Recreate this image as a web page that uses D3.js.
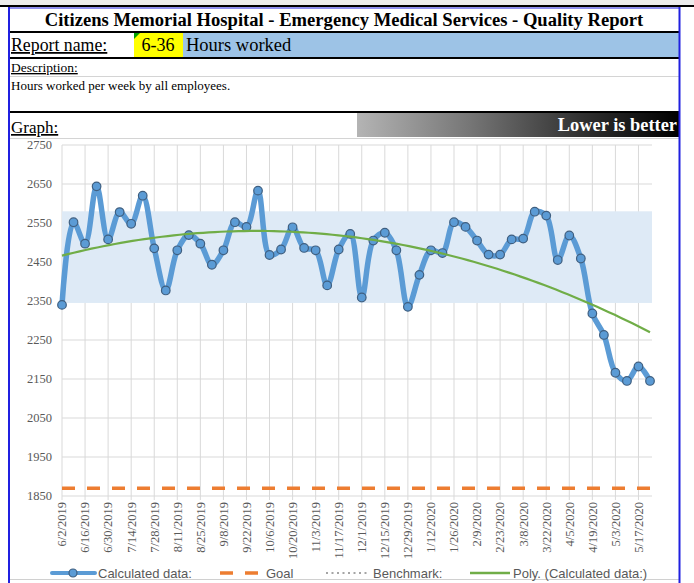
<!DOCTYPE html>
<html>
<head>
<meta charset="utf-8">
<script src="https://cdn.jsdelivr.net/npm/d3@7"></script>
<style>
  body { margin: 0; background: #fff; }
  svg text { font-family: 'Liberation Serif', 'Times New Roman', serif; }
  .legend text { font-family: 'Liberation Sans', Arial, sans-serif; }
</style>
</head>
<body>
<div id="app"></div>
<script>
const weekLabels = [
  '6/2/2019', '6/9/2019', '6/16/2019', '6/23/2019', '6/30/2019', '7/7/2019', '7/14/2019', '7/21/2019',
  '7/28/2019', '8/4/2019', '8/11/2019', '8/18/2019', '8/25/2019', '9/1/2019', '9/8/2019', '9/15/2019',
  '9/22/2019', '9/29/2019', '10/6/2019', '10/13/2019', '10/20/2019', '10/27/2019', '11/3/2019', '11/10/2019',
  '11/17/2019', '11/24/2019', '12/1/2019', '12/8/2019', '12/15/2019', '12/22/2019', '12/29/2019', '1/5/2020',
  '1/12/2020', '1/19/2020', '1/26/2020', '2/2/2020', '2/9/2020', '2/16/2020', '2/23/2020', '3/1/2020',
  '3/8/2020', '3/15/2020', '3/22/2020', '3/29/2020', '4/5/2020', '4/12/2020', '4/19/2020', '4/26/2020',
  '5/3/2020', '5/10/2020', '5/17/2020', '5/24/2020'
]

const hoursWorked = [
  2340, 2552, 2497, 2644, 2508, 2578, 2548, 2620, 2485, 2377,
  2480, 2519, 2497, 2443, 2480, 2552, 2540, 2633, 2468, 2482,
  2539, 2486, 2480, 2390, 2482, 2522, 2359, 2505, 2525, 2480,
  2335, 2417, 2480, 2473, 2552, 2540, 2505, 2469, 2469, 2508,
  2510, 2579, 2569, 2455, 2518, 2459, 2318, 2263, 2166, 2145,
  2182, 2145
]

const goalValue = 1870
const bandRange = [2345, 2580]
const yTicks = [1850, 1950, 2050, 2150, 2250, 2350, 2450, 2550, 2650, 2750]
const trendOrder = 2

const legendItems = ['Calculated data:', 'Goal', 'Benchmark:', 'Poly. (Calculated data:)']

;(function (d3) {

  'use strict'

  const w = 694
  const h = 583

  // least squares polynomial, like the excel trendline
  const polyfit = function (xs, ys, order) {
    const n = order + 1
    const m = []
    for (let r = 0; r < n; r++) {
      m.push(new Array(n + 1).fill(0))
    }
    xs.forEach(function (x, k) {
      for (let r = 0; r < n; r++) {
        for (let c = 0; c < n; c++) m[r][c] += Math.pow(x, r + c)
        m[r][n] += ys[k] * Math.pow(x, r)
      }
    })
    for (let i = 0; i < n; i++) {
      let p = i
      for (let r = i + 1; r < n; r++) if (Math.abs(m[r][i]) > Math.abs(m[p][i])) p = r
      const tmp = m[i]; m[i] = m[p]; m[p] = tmp
      for (let r = 0; r < n; r++) {
        if (r === i) continue
        const f = m[r][i] / m[i][i]
        for (let c = i; c <= n; c++) m[r][c] -= f * m[i][c]
      }
    }
    const coef = m.map((row, i) => row[n] / row[i])
    return x => coef.reduce((s, a, i) => s + a * Math.pow(x, i), 0)
  }

  const svg = d3.select('#app')
    .append('svg')
    .attr('width', w)
    .attr('height', h)

  const defs = svg.append('defs')
  const grad = defs.append('linearGradient').attr('id', 'lowerGrad')
  grad.append('stop').attr('offset', '0%').attr('stop-color', '#b4b4b4')
  grad.append('stop').attr('offset', '35%').attr('stop-color', '#767676')
  grad.append('stop').attr('offset', '70%').attr('stop-color', '#303030')
  grad.append('stop').attr('offset', '100%').attr('stop-color', '#000')

  // spreadsheet strip on top
  svg.append('rect').attr('x', 0).attr('y', 0).attr('width', w).attr('height', 5).attr('fill', '#ececec')
  svg.append('rect').attr('x', 0).attr('y', 5).attr('width', w).attr('height', 2).attr('fill', '#000')

  // header rows
  svg.append('text')
    .attr('x', 344).attr('y', 26)
    .attr('text-anchor', 'middle')
    .style('font-size', '18.6px').style('font-weight', 'bold')
    .text('Citizens Memorial Hospital - Emergency Medical Services - Quality Report')

  svg.append('rect').attr('x', 9).attr('y', 31).attr('width', 671).attr('height', 2).attr('fill', '#000')
  svg.append('rect').attr('x', 183).attr('y', 33).attr('width', 496).attr('height', 24).attr('fill', '#9dc3e6')
  svg.append('rect').attr('x', 134).attr('y', 33).attr('width', 49).attr('height', 24).attr('fill', '#ffff00')
  svg.append('path').attr('d', 'M134,33 L140,33 L134,39 Z').attr('fill', '#00a000')

  svg.append('text').attr('x', 11).attr('y', 51).style('font-size', '17.8px')
    .style('text-decoration', 'underline').text('Report name:')
  svg.append('text').attr('x', 158).attr('y', 51).attr('text-anchor', 'middle')
    .style('font-size', '18px').text('6-36')
  svg.append('text').attr('x', 186).attr('y', 51).style('font-size', '18.5px').text('Hours worked')

  svg.append('rect').attr('x', 9).attr('y', 57).attr('width', 671).attr('height', 2).attr('fill', '#000')
  svg.append('text').attr('x', 11).attr('y', 72).style('font-size', '13.5px')
    .style('text-decoration', 'underline').text('Description:')
  svg.append('line').attr('x1', 9).attr('x2', 679).attr('y1', 76.5).attr('y2', 76.5).attr('stroke', '#d4d4d4')
  svg.append('text').attr('x', 11).attr('y', 90).style('font-size', '13px')
    .text('Hours worked per week by all employees.')

  svg.append('rect').attr('x', 9).attr('y', 111).attr('width', 671).attr('height', 2).attr('fill', '#000')
  svg.append('text').attr('x', 11).attr('y', 133).style('font-size', '17px')
    .style('text-decoration', 'underline').text('Graph:')
  svg.append('rect').attr('x', 357).attr('y', 113).attr('width', 322).attr('height', 24).attr('fill', 'url(#lowerGrad)')
  svg.append('text').attr('x', 677).attr('y', 131).attr('text-anchor', 'end')
    .style('font-size', '18.4px').style('font-weight', 'bold').attr('fill', '#fff')
    .text('Lower is better')
  svg.append('line').attr('x1', 9).attr('x2', 679).attr('y1', 138.5).attr('y2', 138.5).attr('stroke', '#d4d4d4')

  // chart
  const x = d3.scalePoint().domain(weekLabels).range([62, 650])
  const y = d3.scaleLinear().domain([1850, 2750]).range([496, 145])
  const plotRight = 652

  const shownLabels = weekLabels.filter((d, i) => i % 2 === 0)
  const chart = svg.append('g')

  chart.append('g')
    .selectAll('line')
    .data(yTicks)
    .enter()
    .append('line')
    .attr('x1', x(weekLabels[0])).attr('x2', plotRight)
    .attr('y1', d => y(d)).attr('y2', d => y(d))
    .attr('stroke', '#d9d9d9')

  chart.append('g')
    .selectAll('line')
    .data(shownLabels)
    .enter()
    .append('line')
    .attr('x1', d => x(d)).attr('x2', d => x(d))
    .attr('y1', y(2750)).attr('y2', y(1850) + 4)
    .attr('stroke', '#d9d9d9')

  chart.append('rect')
    .attr('x', x(weekLabels[0]))
    .attr('y', y(bandRange[1]))
    .attr('width', plotRight - x(weekLabels[0]))
    .attr('height', y(bandRange[0]) - y(bandRange[1]))
    .attr('fill', '#deeaf6')

  chart.append('line')
    .attr('x1', x(weekLabels[0])).attr('x2', plotRight)
    .attr('y1', y(goalValue)).attr('y2', y(goalValue))
    .attr('stroke', '#ed7d31').attr('stroke-width', 3.5)
    .attr('stroke-dasharray', '13,12')

  chart.append('g')
    .selectAll('text')
    .data(yTicks)
    .enter()
    .append('text')
    .attr('x', 52).attr('y', d => y(d)).attr('dy', '0.35em')
    .attr('text-anchor', 'end')
    .attr('fill', '#595959')
    .style('font-size', '12.5px')
    .text(d => d)

  chart.append('g')
    .selectAll('text')
    .data(shownLabels)
    .enter()
    .append('text')
    .attr('transform', d => 'translate(' + x(d) + ',502) rotate(-90)')
    .attr('dy', '0.35em')
    .attr('text-anchor', 'end')
    .attr('fill', '#595959')
    .style('font-size', '12.5px')
    .text(d => d)

  const series = hoursWorked.map((v, i) => ({ label: weekLabels[i], value: v }))

  const line = d3.line()
    .x(d => x(d.label))
    .y(d => y(d.value))
    .curve(d3.curveCatmullRom)

  chart.append('path')
    .datum(series)
    .attr('d', line)
    .attr('fill', 'none')
    .attr('stroke', '#5b9bd5')
    .attr('stroke-width', 5.5)
    .attr('stroke-linejoin', 'round')

  chart.append('g')
    .selectAll('circle')
    .data(series)
    .enter()
    .append('circle')
    .attr('cx', d => x(d.label))
    .attr('cy', d => y(d.value))
    .attr('r', 4.3)
    .attr('fill', '#5b9bd5')
    .attr('stroke', '#3f5f80')
    .attr('stroke-width', 1.2)

  const idx = hoursWorked.map((v, i) => i / (hoursWorked.length - 1))
  const trend = polyfit(idx, hoursWorked, trendOrder)
  const trendLine = d3.line()
    .x(d => x(weekLabels[0]) + d * (x(weekLabels[weekLabels.length - 1]) - x(weekLabels[0])))
    .y(d => y(trend(d)))

  chart.append('path')
    .datum(d3.range(0, 1.0001, 0.01))
    .attr('d', trendLine)
    .attr('fill', 'none')
    .attr('stroke', '#70ad47')
    .attr('stroke-width', 2.2)

  // chart frame bottom
  svg.append('line').attr('x1', 9).attr('x2', 679).attr('y1', 579.5).attr('y2', 579.5).attr('stroke', '#d0d0d0')

  // legend
  const legend = svg.append('g').attr('class', 'legend')
  const ly = 573
  legend.append('line').attr('x1', 52).attr('x2', 95).attr('y1', ly).attr('y2', ly)
    .attr('stroke', '#5b9bd5').attr('stroke-width', 4).attr('stroke-linecap', 'round')
  legend.append('circle').attr('cx', 73).attr('cy', ly).attr('r', 4)
    .attr('fill', '#5b9bd5').attr('stroke', '#3f5f80').attr('stroke-width', 1.2)
  legend.append('line').attr('x1', 220).attr('x2', 258).attr('y1', ly).attr('y2', ly)
    .attr('stroke', '#ed7d31').attr('stroke-width', 3.5).attr('stroke-dasharray', '13,12')
  legend.append('line').attr('x1', 326).attr('x2', 367).attr('y1', ly).attr('y2', ly)
    .attr('stroke', '#a5a5a5').attr('stroke-width', 2).attr('stroke-dasharray', '2,3.5')
  legend.append('line').attr('x1', 470).attr('x2', 510).attr('y1', ly).attr('y2', ly)
    .attr('stroke', '#70ad47').attr('stroke-width', 2.5)

  legend.selectAll('text')
    .data(legendItems)
    .enter()
    .append('text')
    .attr('x', (d, i) => [98, 266, 373, 513][i])
    .attr('y', ly + 4.5)
    .attr('fill', '#595959')
    .style('font-size', '13px')
    .text(d => d)

  // blue frame of the report
  svg.append('line').attr('x1', 9).attr('x2', 9).attr('y1', 7).attr('y2', h).attr('stroke', '#2020e0').attr('stroke-width', 2)
  svg.append('line').attr('x1', 679.5).attr('x2', 679.5).attr('y1', 7).attr('y2', h).attr('stroke', '#2020e0').attr('stroke-width', 2)
  svg.append('line').attr('x1', 9).attr('x2', 680).attr('y1', 8).attr('y2', 8).attr('stroke', '#2020e0').attr('stroke-width', 1)

}(d3))
</script>
</body>
</html>
